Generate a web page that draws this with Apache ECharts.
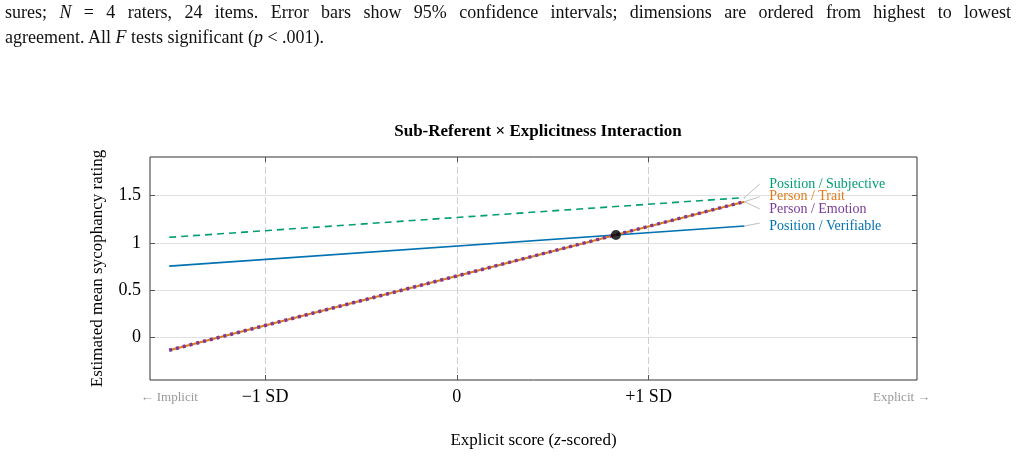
<!DOCTYPE html>
<html>
<head>
<meta charset="utf-8">
<script src="https://cdn.jsdelivr.net/npm/echarts@6/dist/echarts.min.js"></script>
<style>
  html, body { margin: 0; padding: 0; background: #fff; }
  #chart { position: absolute; left: 0; top: 0; width: 1020px; height: 457px; }
  .caption {
    position: absolute; left: 5px; top: 0; width: 1006px;
    font-family: "Liberation Serif", serif; font-size: 18px; line-height: 25px; color: #111;
  }
  .caption div { text-align: justify; text-align-last: justify; }
  .caption div.last { text-align-last: left; }
</style>
</head>
<body>
<div id="chart"></div>
<div class="caption">
  <div>sures; <i>N</i> = 4 raters, 24 items. Error bars show 95% confidence intervals; dimensions are ordered from highest to lowest</div>
  <div class="last">agreement. All <i>F</i> tests significant (<i>p</i> &lt; .001).</div>
</div>
<script>
// estimated slopes at -1.5 SD and +1.5 SD
const xEnds = [-1.5, 1.5];
const seriesNames = ['Position / Subjective', 'Person / Trait', 'Person / Emotion', 'Position / Verifiable'];
const subjective = [1.06, 1.48];
const trait = [-0.135, 1.437];
const emotion = [-0.135, 1.437];
const verifiable = [0.755, 1.18];
const crossing = [0.83, 1.085];

// where the right-hand labels sit (data units)
const labelX = 1.58;
const labelY = [1.624, 1.49, 1.356, 1.18];
const leaderY = [1.624, 1.49, 1.36, 1.21];

const xTicks = [-1, 0, 1];
const xLabelValues = [-1.5, -1, 0, 1, 2.32];
const xLabelText = ['← Implicit', '−1 SD', '0', '+1 SD', 'Explicit →'];
const yTicks = [0, 0.5, 1, 1.5];

const colors = ['#009E73', '#E07B1A', '#7A3A9A', '#0072B2'];
const serif = '"Liberation Serif", "Times New Roman", serif';

const chart = echarts.init(document.getElementById('chart'));

const pts = ys => xEnds.map((x, i) => [x, ys[i]]);
const leader = (yEnd, yLab) => ({
  silent: true,
  symbol: 'none',
  label: { show: false },
  lineStyle: { color: '#b0b0b0', width: 0.8, type: 'solid' },
  data: [[{ coord: [1.5, yEnd] }, { coord: [labelX, yLab] }]]
});

const tickStyle = { show: true, inside: true, length: 5, lineStyle: { color: '#555', width: 1 } };
const noLine = { show: false, onZero: false };

const option = {
  animation: false,
  title: {
    text: 'Sub-Referent × Explicitness Interaction',
    left: 533, top: 118, textAlign: 'center',
    textStyle: { fontFamily: serif, fontSize: 17, fontWeight: 'bold', color: '#000' }
  },
  grid: {
    left: 150, right: 103, top: 157, bottom: 77,
    show: true, borderColor: '#333', borderWidth: 1, backgroundColor: 'transparent'
  },
  xAxis: [{
    type: 'value', min: -1.6, max: 2.4, position: 'bottom',
    axisLine: noLine,
    axisTick: Object.assign({ customValues: xTicks }, tickStyle),
    splitLine: { show: true, lineStyle: { color: '#cfcfcf', width: 1, type: [7, 3] } },
    axisLabel: {
      customValues: xLabelValues,
      margin: 8,
      formatter: v => {
        const i = xLabelValues.indexOf(v);
        const t = i >= 0 ? xLabelText[i] : '';
        return (i === 0 || i === 4) ? '{g|' + t + '}' : '{t|' + t + '}';
      },
      rich: {
        t: { fontFamily: serif, fontSize: 18, color: '#000' },
        g: { fontFamily: serif, fontSize: 13, color: '#999', padding: [3, 0, 0, 0] }
      }
    },
    name: '{n|Explicit score (}{i|z}{n|-scored)}',
    nameLocation: 'middle', nameGap: 52,
    nameTextStyle: {
      rich: {
        n: { fontFamily: serif, fontSize: 17, color: '#000' },
        i: { fontFamily: serif, fontSize: 17, fontStyle: 'italic', color: '#000' }
      }
    }
  }, {
    type: 'value', min: -1.6, max: 2.4, position: 'top',
    axisLine: noLine,
    axisTick: Object.assign({ customValues: xTicks }, tickStyle),
    axisLabel: { show: false },
    splitLine: { show: false }
  }],
  yAxis: [{
    type: 'value', min: -0.45, max: 1.91, position: 'left',
    axisLine: noLine,
    axisTick: Object.assign({ customValues: yTicks }, tickStyle),
    splitLine: { show: true, lineStyle: { color: '#e0e0e0', width: 1 } },
    axisLabel: {
      customValues: yTicks, margin: 9,
      fontFamily: serif, fontSize: 18, color: '#000',
      formatter: v => String(v)
    },
    name: 'Estimated mean sycophancy rating',
    nameLocation: 'middle', nameGap: 44,
    nameTextStyle: { fontFamily: serif, fontSize: 17, color: '#000' }
  }, {
    type: 'value', min: -0.45, max: 1.91, position: 'right',
    axisLine: noLine,
    axisTick: Object.assign({ customValues: yTicks }, tickStyle),
    axisLabel: { show: false },
    splitLine: { show: false }
  }],
  series: [
    {
      name: seriesNames[0], type: 'line', data: pts(subjective), symbol: 'none', z: 3,
      lineStyle: { color: colors[0], width: 1.6, type: [7, 5] },
      markLine: leader(subjective[1], leaderY[0])
    },
    {
      name: seriesNames[3], type: 'line', data: pts(verifiable), symbol: 'none', z: 3,
      lineStyle: { color: colors[3], width: 1.6 },
      markLine: leader(verifiable[1], leaderY[3])
    },
    {
      name: seriesNames[1], type: 'line', data: pts(trait), symbol: 'none', z: 4,
      lineStyle: { color: colors[1], width: 2.2 },
      markLine: leader(trait[1], leaderY[1])
    },
    {
      name: seriesNames[2], type: 'line', data: pts(emotion), symbol: 'none', z: 5,
      lineStyle: { color: colors[2], width: 3.4, type: [3, 4], cap: 'butt' },
      markLine: leader(emotion[1], leaderY[2])
    },
    {
      name: 'crossing', type: 'scatter', data: [crossing], z: 6,
      symbol: 'circle', symbolSize: 10, itemStyle: { color: '#000' }
    },
    {
      name: 'labels', type: 'scatter', z: 6, silent: true,
      symbolSize: 1, itemStyle: { color: 'rgba(0,0,0,0)' },
      data: seriesNames.map((n, i) => ({
        value: [labelX, labelY[i]],
        label: {
          show: true, position: 'right', distance: 9, formatter: n,
          fontFamily: serif, fontSize: 14, color: colors[i],
          opacity: 1, textBorderWidth: 0
        }
      }))
    }
  ]
};

chart.setOption(option);
</script>
</body>
</html>
